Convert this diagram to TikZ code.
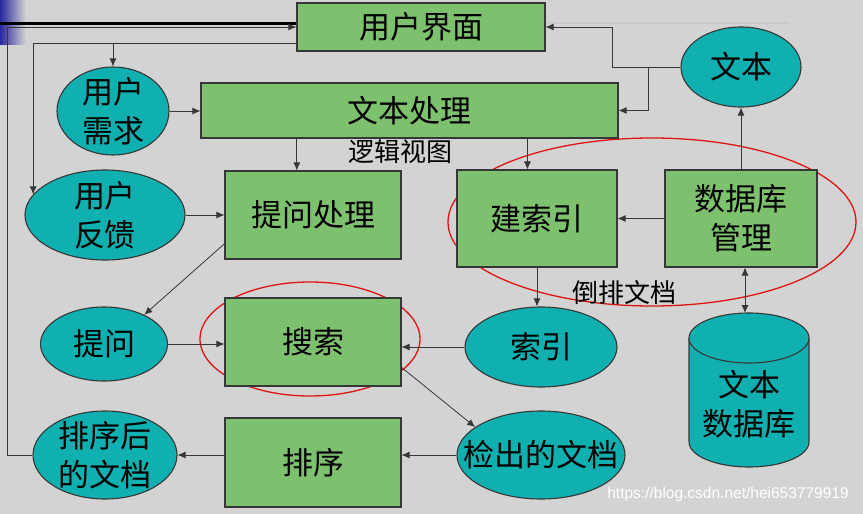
\documentclass[tikz,border=0pt]{standalone}
\usepackage{fontspec}
\usepackage{tikz}
\usetikzlibrary{positioning, arrows.meta, shapes.geometric, calc}
\newfontfamily\cjk{Noto Sans CJK SC}
\newfontfamily\wmfont{Liberation Sans}
\definecolor{slidebg}{RGB}{211, 211, 211}
\definecolor{procgreen}{RGB}{125, 193, 110}
\definecolor{datateal}{RGB}{16, 176, 176}
\definecolor{edgegray}{RGB}{55, 55, 55}
\definecolor{ringred}{RGB}{225, 20, 20}
\definecolor{slideblue}{RGB}{40, 40, 160}
\definecolor{rulegray}{RGB}{202, 202, 202}

\begin{document}
\begin{tikzpicture}[x=1pt, y=1pt,
  font=\cjk\fontsize{31}{39}\selectfont,
  proc/.style={draw=edgegray, line width=1.1pt, fill=procgreen, inner sep=0pt, align=center},
  data/.style={ellipse, draw=edgegray, line width=1.1pt, fill=datateal, inner sep=0pt},
  ring/.style={draw=ringred, line width=1.3pt},
  arr/.style={draw=edgegray, line width=0.8pt, -{Latex[length=8pt, width=7pt]}},
  dbl/.style={arr, {Latex[length=8pt, width=7pt]}-{Latex[length=8pt, width=7pt]}},
  tag/.style={font=\cjk\fontsize{26}{30}\selectfont},
  wm/.style={font=\wmfont\fontsize{15.5}{18}\selectfont, text=white}]
  \useasboundingbox (0,0) rectangle (863,-514);

  % Slide background
  \fill[slidebg] (0,0) rectangle (863,-514);
  \shade[left color=slideblue, right color=slidebg] (0,0) rectangle (26,-44);
  \draw[line width=3pt] (0,-23) -- (297,-23);
  \draw[rulegray, line width=2pt] (545,-23) -- (790,-23);

  % Red rings
  \draw[ring] (652,-222) ellipse [x radius=204, y radius=84];
  \draw[ring] (310,-339) ellipse [x radius=110, y radius=57];

  % Processes (green)
  \node[proc, minimum width=248pt, minimum height=48pt] (ui) at (421,-27) {用户界面};
  \node[proc, minimum width=417pt, minimum height=55pt] (textproc) at (409.5,-110.5) {文本处理};
  \node[proc, minimum width=176pt, minimum height=88pt] (queryproc) at (313,-215) {提问处理};
  \node[proc, minimum width=160pt, minimum height=97pt] (indexing) at (537,-218.5) {建索引};
  \node[proc, minimum width=152pt, minimum height=97pt] (dbms) at (741,-218.5) {数据库\\管理};
  \node[proc, minimum width=176pt, minimum height=88pt] (search) at (313,-342) {搜索};
  \node[proc, minimum width=176pt, minimum height=89pt] (rank) at (313,-462.5) {排序};

  % Data (teal)
  \node[data, minimum width=112pt, minimum height=88pt, label={[align=center]center:用户\\需求}] (need) at (113,-111) {};
  \node[data, minimum width=160pt, minimum height=90pt, label={[align=center]center:用户\\反馈}] (feedback) at (105,-215) {};
  \node[data, minimum width=120pt, minimum height=80pt, label={center:文本}] (text) at (741,-67) {};
  \node[data, minimum width=127pt, minimum height=74pt, label={center:提问}] (query) at (104,-344) {};
  \node[data, minimum width=152pt, minimum height=80pt, label={center:索引}] (index) at (541,-347) {};
  \node[data, minimum width=168pt, minimum height=88pt, label={center:检出的文档}] (hits) at (541,-455) {};
  \node[data, minimum width=144pt, minimum height=88pt, label={[align=center]center:排序后\\的文档}] (sorted) at (105,-455) {};

  % Text database (cylinder)
  \path[fill=datateal, draw=edgegray, line width=1.1pt] (689,-338) -- (689,-442)
    arc[start angle=180, end angle=360, x radius=60, y radius=25] -- (809,-338);
  \filldraw[fill=datateal, draw=edgegray, line width=1.1pt] (749,-338) ellipse [x radius=60, y radius=25];
  \node[align=center] (textdb) at (749,-404) {文本\\数据库};
  \coordinate (dbtop) at (745,-313);

  % Labels
  \node[tag] (logic) at (400,-152) {逻辑视图};
  \node[tag] (inverted) at (624,-293) {倒排文档};
  \node[wm] (wmark) at (728,-494) {https://blog.csdn.net/hei653779919};

  % Connectors
  \coordinate (uiout) at ([yshift=-16pt]ui.west);
  \draw[arr] (uiout) -| (feedback.164);
  \draw[arr] (uiout -| need.north) -- (need.north);
  \draw[arr] (text.west) -- ++(-68,0) |- (ui.east);
  \draw[arr] ([xshift=-32pt]text.west) |- (textproc.east);
  \draw[arr] (need.east) -- (need.east -| textproc.west);
  \draw[arr] (textproc.south -| queryproc.110) -- (queryproc.110);
  \draw[arr] (textproc.south -| indexing.101) -- (indexing.101);
  \draw[arr] (dbms.west) -- (indexing.east);
  \draw[arr] (dbms.north) -- (text.south);
  \draw[arr] (indexing.south) -- (indexing.south |- index.north);
  \draw[dbl] (dbms.south -| dbtop) -- (dbtop);
  \draw[arr] (feedback.east) -- (feedback.east -| queryproc.west);
  \draw[arr] (queryproc.198) -- (query.36);
  \draw[arr] (query.east) -- (query.east -| search.west);
  \draw[arr] (index.west) -- (index.west -| search.east);
  \draw[arr] (search.344) -- (hits.157);
  \draw[arr] (hits.west) -- (hits.west -| rank.east);
  \draw[arr] (rank.west |- sorted.east) -- (sorted.east);
  \draw[arr] (sorted.west) -- ++(-25,0) |- (ui.west);
\end{tikzpicture}
\end{document}
